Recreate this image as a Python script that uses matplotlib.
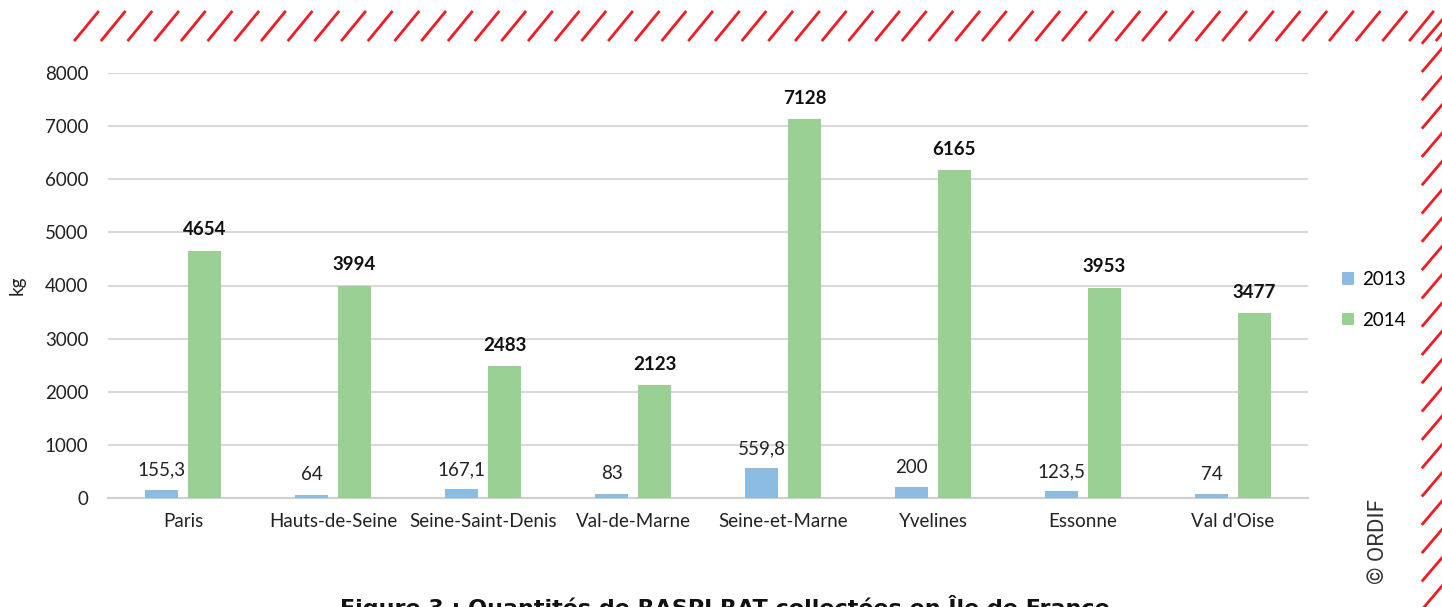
import numpy as np
import matplotlib
matplotlib.use('Agg')
import matplotlib.pyplot as plt
from matplotlib.lines import Line2D

departements = ['Paris', 'Hauts-de-Seine', 'Seine-Saint-Denis', 'Val-de-Marne',
                'Seine-et-Marne', 'Yvelines', 'Essonne', "Val d'Oise"]
kg_2013 = [155.3, 64, 167.1, 83, 559.8, 200, 123.5, 74]
kg_2014 = [4654, 3994, 2483, 2123, 7128, 6165, 3953, 3477]
labels_2013 = ['155,3', '64', '167,1', '83', '559,8', '200', '123,5', '74']
labels_2014 = ['4654', '3994', '2483', '2123', '7128', '6165', '3953', '3477']
yticks = [0, 1000, 2000, 3000, 4000, 5000, 6000, 7000, 8000]

plt.rcParams['font.family'] = ['Lato', 'DejaVu Sans']

W, H = 1442, 607
fig = plt.figure(figsize=(W / 100, H / 100), dpi=100)
ax = fig.add_axes([108 / W, 1 - 498 / H, 1200 / W, 425 / H])

x = np.arange(len(departements))
bw = 0.225
b1 = ax.bar(x - 0.143, kg_2013, bw, color='#8DBCE3', label='2013', zorder=3)
b2 = ax.bar(x + 0.143, kg_2014, bw, color='#9BD095', label='2014', zorder=3)

fs = 13.5
for rect, lab in zip(b1, labels_2013):
    ax.annotate(lab, (rect.get_x() + rect.get_width() / 2, rect.get_height()),
                xytext=(0, 8), textcoords='offset points', ha='center', va='bottom',
                fontsize=fs, color='#222222')
for rect, lab in zip(b2, labels_2014):
    ax.annotate(lab, (rect.get_x() + rect.get_width() / 2, rect.get_height()),
                xytext=(0, 9), textcoords='offset points', ha='center', va='bottom',
                fontsize=fs, fontweight='bold', color='#111111')

ax.set_xlim(-0.5, 7.5)
ax.set_ylim(0, 8000)
ax.set_yticks(yticks)
ax.set_xticks(x)
ax.set_xticklabels(departements)
ax.tick_params(axis='both', length=0, labelsize=fs, colors='#222222')
ax.tick_params(axis='x', pad=11)
ax.tick_params(axis='y', pad=14)
ax.grid(axis='y', color='#D9D9D9', linewidth=1.5, zorder=0)
for s in ['top', 'right', 'left']:
    ax.spines[s].set_visible(False)
ax.spines['bottom'].set_color('#D0D0D0')
ax.spines['bottom'].set_linewidth(1.5)
ax.set_ylabel('kg', fontsize=fs, color='#222222')
ax.yaxis.set_label_coords(-82 / 1200, 0.5)

ax.legend(loc='center left', bbox_to_anchor=(1325 / W, 1 - 300 / H),
          bbox_transform=fig.transFigure, frameon=False, fontsize=fs,
          handlelength=0.65, handleheight=0.65, handletextpad=0.45, labelspacing=1.25)

# red hatched frame (top and right)
red = '#EE1C25'
for x0 in np.arange(75, W + 30, 26.7):
    fig.add_artist(Line2D([x0 / W, (x0 + 23) / W], [1 - 40 / H, 1 - 12 / H],
                          color=red, lw=2, transform=fig.transFigure))
for y0 in np.arange(42.7, H + 30, 28.3):
    fig.add_artist(Line2D([1422.7 / W, (1422.7 + 23) / W], [1 - y0 / H, 1 - (y0 - 27) / H],
                          color=red, lw=2, transform=fig.transFigure))

fig.text(1378 / W, 1 - 542 / H, '© ORDIF', rotation=90, ha='center', va='center',
         fontsize=16, color='#333333', family=['Roboto', 'DejaVu Sans'])

# caption partly cut off at the bottom edge, as in the source image
fig.text(725 / W, 1 - 615 / H, 'Figure 3 : Quantités de RASPI RAT collectées en Île de France',
         ha='center', va='baseline', fontsize=16, fontweight='bold', color='#111111',
         family=['DejaVu Sans'], transform=fig.transFigure)

fig.savefig('out.png', dpi=100)
